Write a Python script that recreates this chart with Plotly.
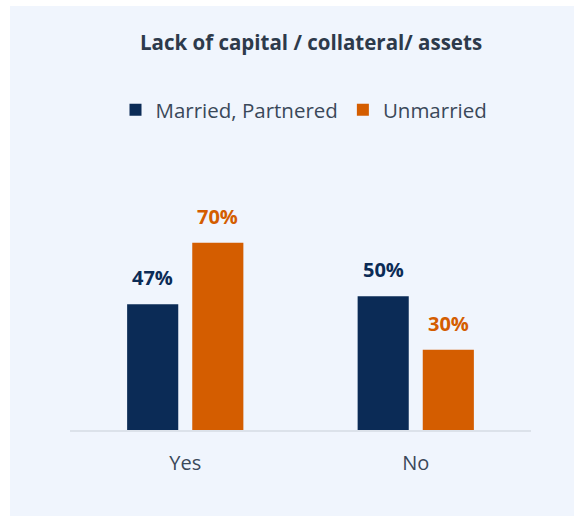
import plotly.graph_objects as go

categories = ["Yes", "No"]
married = [47, 50]
unmarried = [70, 30]
series_names = ["Married, Partnered", "Unmarried"]
colors = ["#0b2b56", "#d45d00"]

W, H = 574, 516
L, R, T, B = 70, 43, 216, 86
pw, ph = W - L - R, H - T - B
bargap, bargroupgap = 0.435, 0.215
slot_px = pw / len(categories) * (1 - bargap) / len(series_names)

font = "Open Sans"
fig = go.Figure()
for k, (name, vals, col) in enumerate(zip(series_names, [married, unmarried], colors)):
    fig.add_trace(go.Bar(
        x=categories, y=vals, name=name,
        marker=dict(color=col, line=dict(width=0)),
        hoverinfo="skip",
    ))
    shift = (k - (len(series_names) - 1) / 2) * slot_px
    for c, v in zip(categories, vals):
        fig.add_annotation(x=c, y=v, text=f"<b>{v}%</b>", showarrow=False,
                           xshift=shift, yshift=11, yanchor="bottom",
                           font=dict(family=font, size=20, color=col))

fig.update_layout(
    width=W, height=H,
    margin=dict(l=L, r=R, t=T, b=B),
    paper_bgcolor="white", plot_bgcolor="rgba(0,0,0,0)",
    barmode="group", bargap=bargap, bargroupgap=bargroupgap,
    title=dict(text="<b>Lack of capital / collateral/ assets</b>",
               x=311 / W, xanchor="center", y=1 - 43 / H, yanchor="middle",
               font=dict(family=font, size=20.5, color="#2d3a4b")),
    legend=dict(orientation="h", x=(304 - L) / pw, xanchor="center",
                y=(H - B - 110) / ph, yanchor="middle",
                font=dict(family=font, size=20.5, color="#3a4859"),
                bgcolor="rgba(0,0,0,0)", traceorder="normal"),
    xaxis=dict(showline=True, linecolor="#dce2ea", linewidth=2,
               tickfont=dict(family=font, size=20, color="#3a4859"),
               ticks="", showgrid=False, ticklabelstandoff=14),
    yaxis=dict(range=[0, 80], visible=False, showgrid=False, zeroline=False),
)
fig.add_shape(type="rect", xref="paper", yref="paper", layer="below",
              x0=(10 - L) / pw, x1=(W - L) / pw,
              y0=(H - B - H) / ph, y1=(H - B - 6) / ph,
              fillcolor="#f0f5fd", line=dict(width=0))
fig.write_html("out.html", config={"displayModeBar": False},
               post_script="document.body.style.margin='0';document.body.style.overflow='hidden';")
